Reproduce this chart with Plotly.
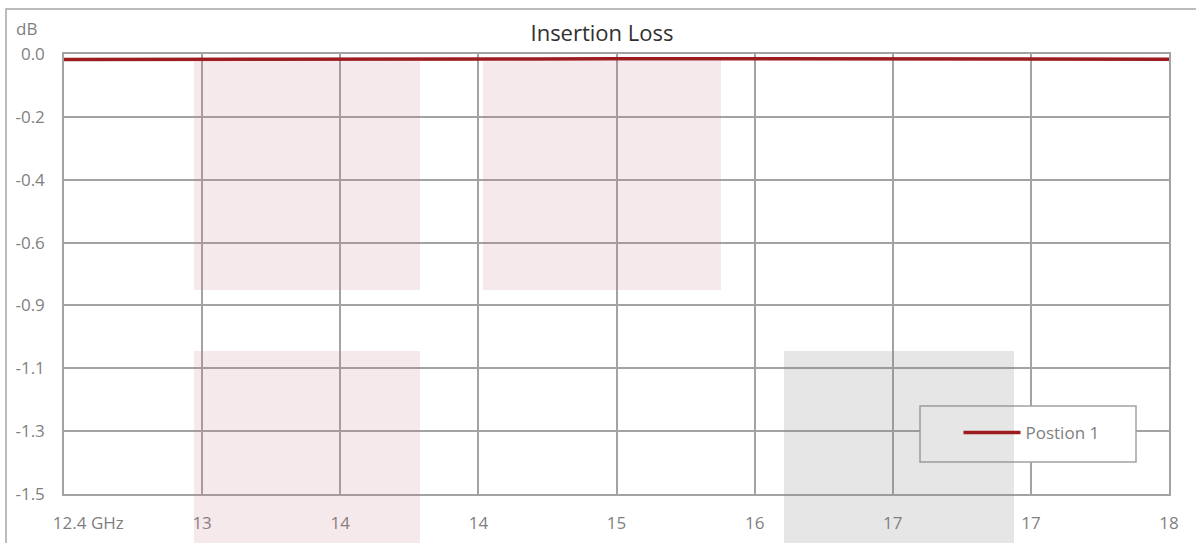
import plotly.graph_objects as go

# ---- data ----
freq_ghz = [12.4, 12.8, 13.2, 13.6, 14.0, 14.4, 14.8, 15.2, 15.6, 16.0, 16.4, 16.8, 17.2, 17.6, 18.0]
loss_db = [-0.019, -0.019, -0.018, -0.018, -0.018, -0.017, -0.017, -0.016, -0.016, -0.016, -0.017, -0.017, -0.018, -0.018, -0.018]
series_name = "Postion 1"

x_tickvals = [12.4, 13.1, 13.8, 14.5, 15.2, 15.9, 16.6, 17.3, 18.0]
x_ticktext = ["\u00a0" * 11 + "12.4 GHz", "13", "14", "14", "15", "16", "17", "17", "18"]
y_tickvals = [0.0, -0.2143, -0.4286, -0.6429, -0.8571, -1.0714, -1.2857, -1.5]
y_ticktext = ["0.0", "-0.2", "-0.4", "-0.6", "-0.9", "-1.1", "-1.3", "-1.5"]

GRID = "#a3a3a3"
TXT = "#7f7f7f"
FONT = "Open Sans"

fig = go.Figure()
fig.add_trace(go.Scatter(
    x=freq_ghz, y=loss_db, mode="lines", name=series_name,
    line=dict(color="#9c1c1f", width=3.5), showlegend=True,
))

# paper coords helpers (plot area: x 64..1169, y 54..494)
def px(v):
    return (v - 64) / 1105.0

def py(v):
    return (494 - v) / 440.0

shapes = []
# outer chart border
shapes.append(dict(type="rect", xref="paper", yref="paper", x0=px(6), x1=px(1230), y0=py(600), y1=py(9),
                   line=dict(color="#a6a6a6", width=1.5), fillcolor="rgba(0,0,0,0)", layer="below"))
# legend background box
shapes.append(dict(type="rect", xref="paper", yref="paper", x0=px(920), x1=px(1136), y0=py(462), y1=py(406),
                   line=dict(color=GRID, width=1.5), fillcolor="white", layer="above"))
pink = "rgba(195,120,128,0.16)"
gray = "rgba(128,128,128,0.2)"
for (a, b, c, d, col) in [
    (194, 420, 290, 60.5, pink),
    (483, 721, 290, 60.5, pink),
    (194, 420, 560, 351, pink),
    (784, 1014, 560, 351, gray),
]:
    shapes.append(dict(type="rect", xref="paper", yref="paper", x0=px(a), x1=px(b), y0=py(c), y1=py(d),
                       line=dict(width=0), fillcolor=col, layer="above"))

fig.update_layout(
    width=1196, height=543,
    margin=dict(l=64, r=27, t=54, b=49, autoexpand=False),
    paper_bgcolor="white", plot_bgcolor="white",
    font=dict(family=FONT, size=17, color=TXT),
    title=dict(text="Insertion Loss", x=px(602), xref="paper", xanchor="center",
               y=1 - 33 / 543, yanchor="middle", font=dict(family=FONT, size=22, color="#303030")),
    shapes=shapes,
    legend=dict(x=px(958.5), y=py(433), xanchor="left", yanchor="middle", xref="paper", yref="paper",
                bgcolor="rgba(0,0,0,0)", borderwidth=0, itemwidth=57,
                font=dict(family=FONT, size=17, color=TXT)),
    annotations=[dict(text="dB", xref="paper", yref="paper", x=px(14), y=py(29), xanchor="left",
                      yanchor="middle", showarrow=False, font=dict(family=FONT, size=17, color=TXT))],
)
fig.update_xaxes(range=[12.4, 18.0], tickmode="array", tickvals=x_tickvals, ticktext=x_ticktext,
                 showgrid=True, gridcolor=GRID, gridwidth=1.5, showline=True, linecolor=GRID, linewidth=1.5,
                 mirror=True, zeroline=False, ticks="", ticklabelstandoff=13, tickangle=0,
                 ticklabeloverflow="allow", automargin=False)
fig.update_yaxes(range=[-1.5, 0.0], tickmode="array", tickvals=y_tickvals, ticktext=y_ticktext,
                 showgrid=True, gridcolor=GRID, gridwidth=1.5, showline=True, linecolor=GRID, linewidth=1.5,
                 mirror=True, zeroline=False, ticks="", ticklabelstandoff=14, automargin=False)

fig.write_html("out.html", config={"displayModeBar": False},
               post_script="document.body.style.margin='0';")
